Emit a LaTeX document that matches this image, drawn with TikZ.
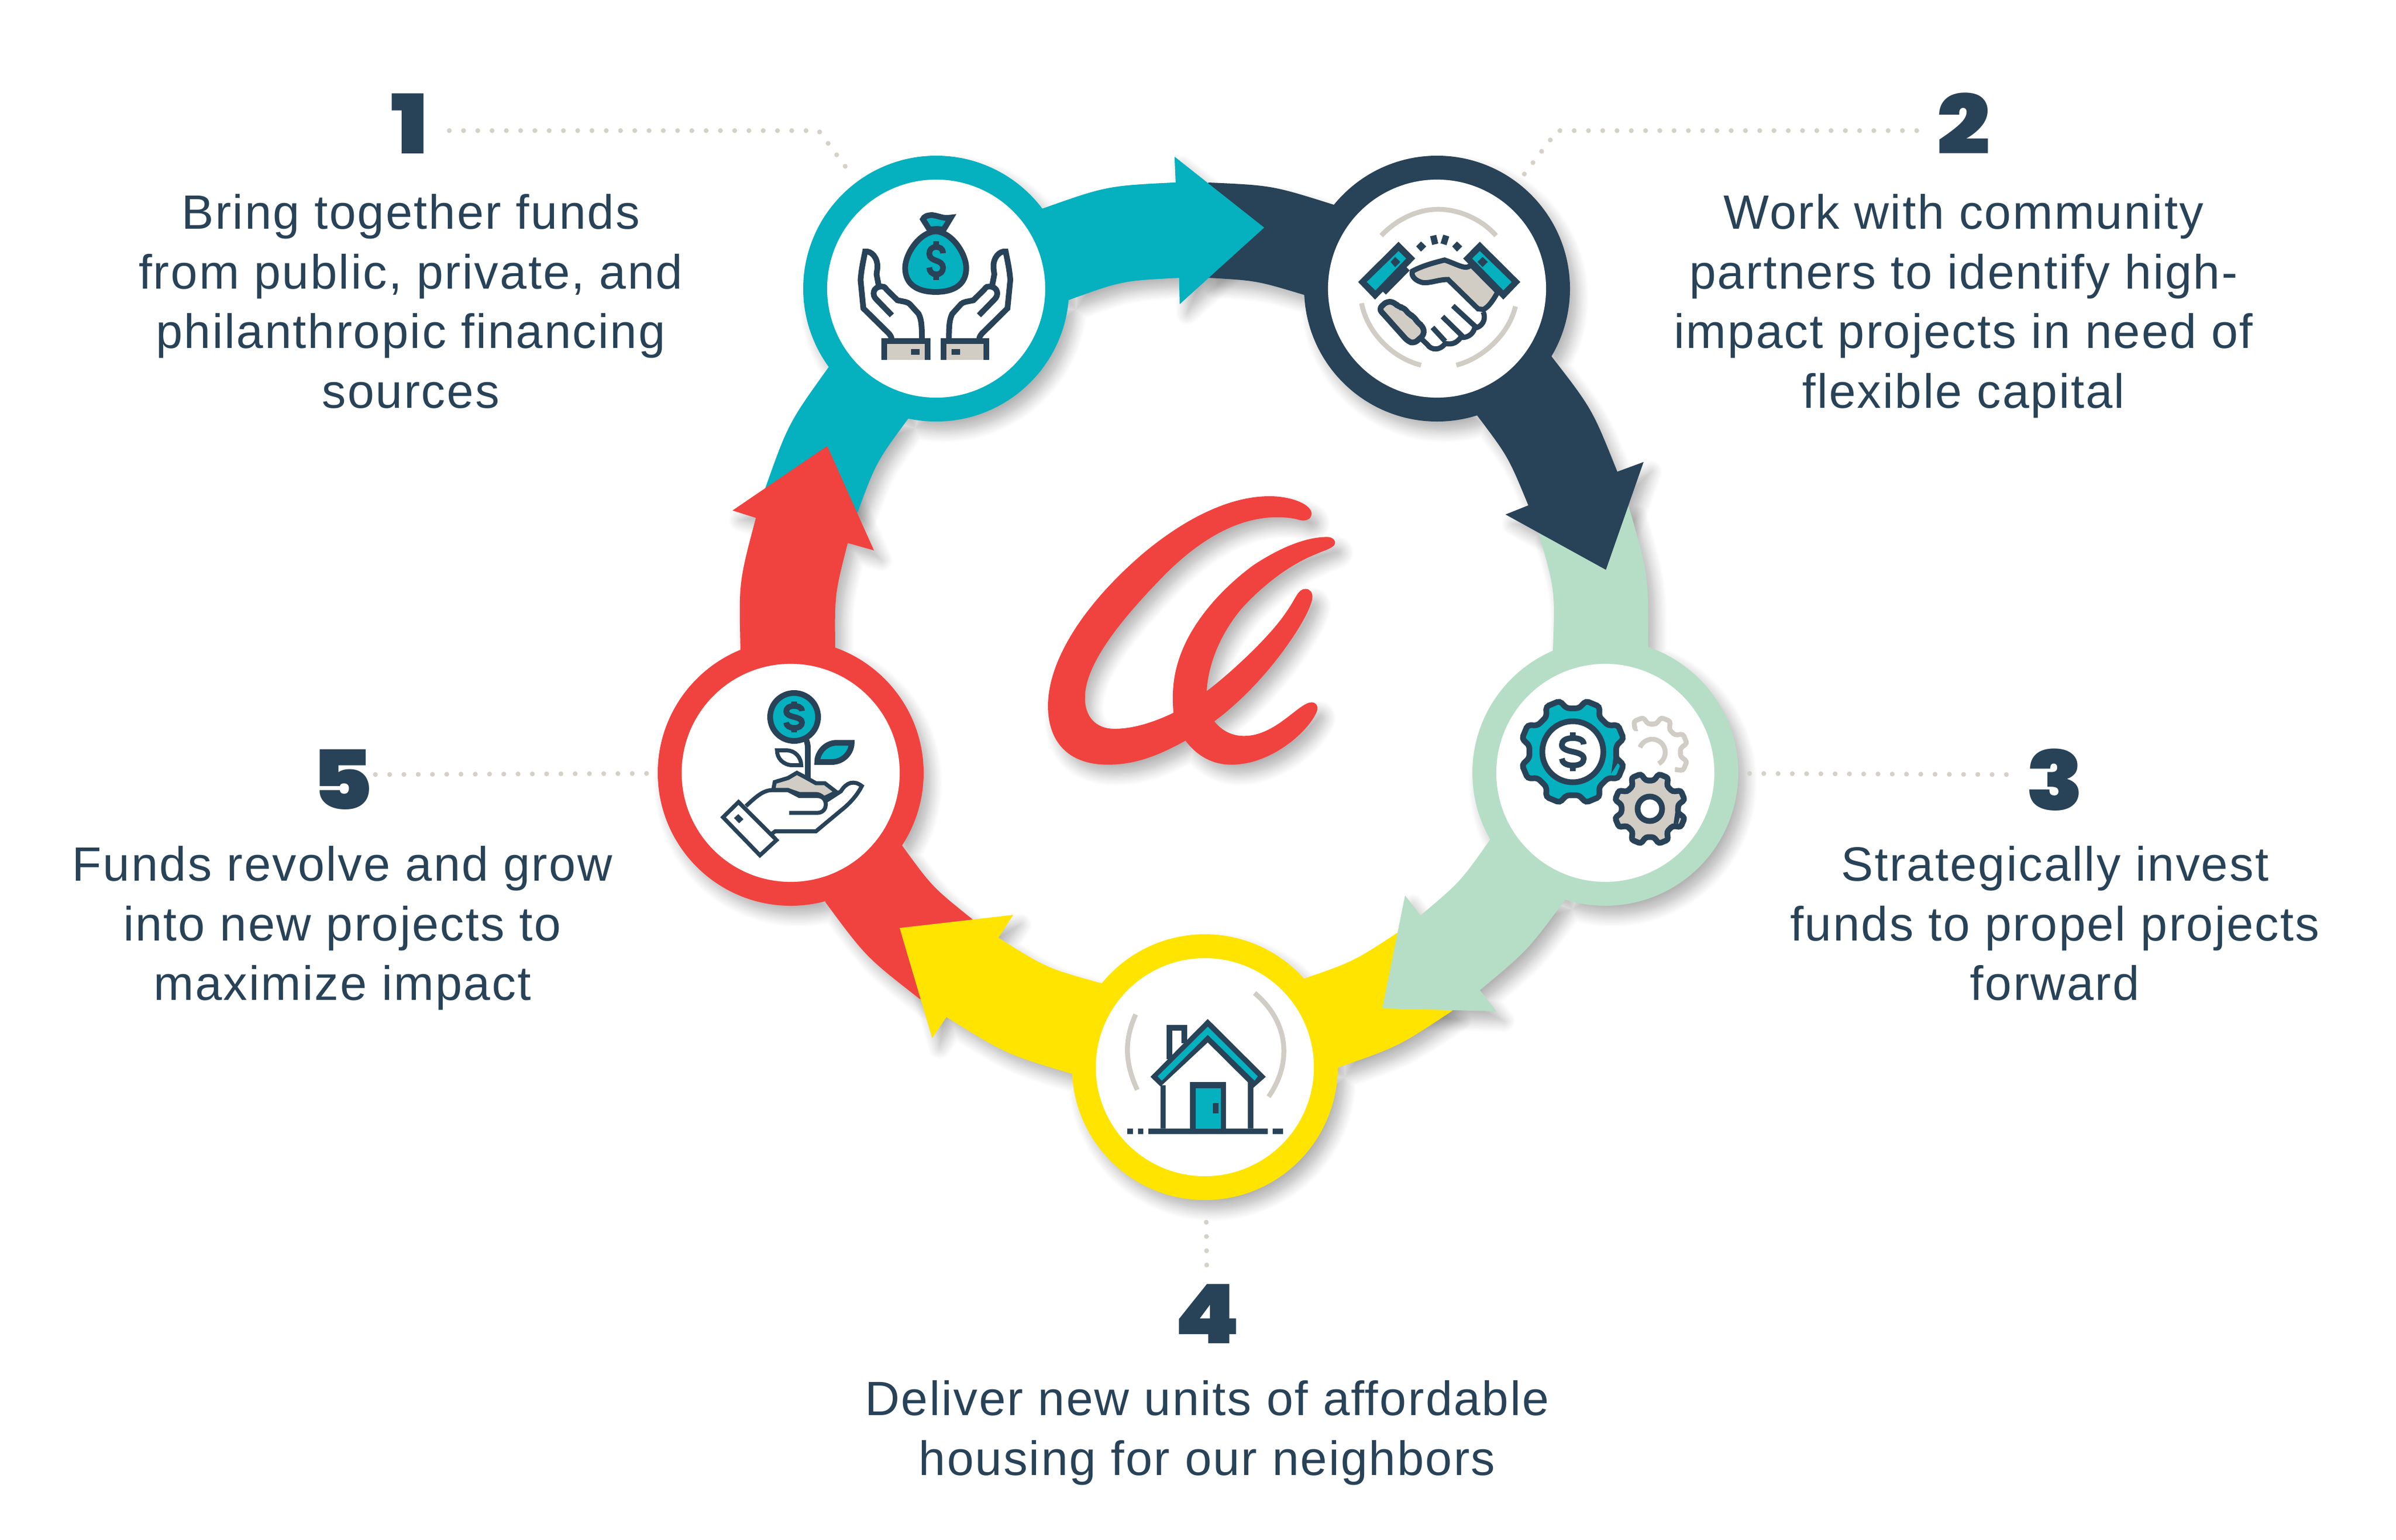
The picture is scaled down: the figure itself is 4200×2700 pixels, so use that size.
\documentclass[tikz,border=0pt]{standalone}
\usepackage{fontspec}
\setmainfont{Liberation Sans}[LetterSpace=3]
\newfontfamily\numfont{Poppins}[UprightFont=* Black,FakeStretch=1.14]
\usetikzlibrary{shadows.blur}
\definecolor{ringteal}{HTML}{05B0BF}
\definecolor{ringnavy}{HTML}{284257}
\definecolor{ringmint}{HTML}{B6DEC6}
\definecolor{ringyellow}{HTML}{FFE400}
\definecolor{ringred}{HTML}{F0433F}
\definecolor{iconbeige}{HTML}{D1CCC4}
\definecolor{dotgrey}{HTML}{D5D1C7}
\begin{document}
\begin{tikzpicture}[x=0.01cm,y=-0.01cm,
    softshadow/.style={blur shadow={shadow xshift=0.13cm,shadow yshift=-0.17cm,shadow blur radius=0.2cm,shadow blur steps=10,shadow opacity=30}},
    stepdisc/.style={circle, fill=white, inner sep=0pt, minimum size=3.82cm},
    numstyle/.style={inner sep=0pt, text=ringnavy, font=\numfont\fontsize{41}{41}\selectfont},
    textstyle/.style={anchor=north, inner sep=0pt, align=center, text=ringnavy, font=\fontsize{24}{29.7}\selectfont},
    leaderline/.style={draw=dotgrey, line width=0.085cm, line cap=round, dash pattern=on 0pt off 0.25cm},
    iconline/.style={draw=ringnavy, line width=0.1cm},
    beigeline/.style={draw=iconbeige, line width=0.085cm},
    dollarmark/.pic={
        \draw[iconline] (12,-13) .. controls (12,-22) and (5,-24) .. (0,-24) .. controls (-8,-24) and (-12,-19) .. (-12,-12) .. controls (-12,-5) and (-6,-2) .. (0,0) .. controls (6,2) and (12,5) .. (12,12) .. controls (12,19) and (8,24) .. (0,24) .. controls (-7,24) and (-12,19) .. (-12,12);
        \draw[iconline] (0,-34) -- (0,-24) (0,24) -- (0,34);
    },
    arrowonepath/.style={insert path={
        (1341,857) .. controls (1382,742) .. (1453,643) -- (1641,506) -- (1592,734) .. controls (1536,810) .. (1503,899) -- cycle
        (1641,506) circle (233)
        (1641,506) -- (1827,366) .. controls (1940,326) .. (2061,320) -- (2059,275) -- (2216,399) -- (2068,533) -- (2067,487) .. controls (1967,492) .. (1873,526) -- cycle}},
    headonepath/.style={insert path={
        (1641,506) -- (1827,366) .. controls (1940,326) .. (2061,320) -- (2059,275) -- (2216,399) -- (2068,533) -- (2067,487) .. controls (1967,492) .. (1873,526) -- cycle}},
    arrowtwopath/.style={insert path={
        (2118,320) .. controls (2230,325) .. (2338,359) -- (2519,506) -- (2286,517) .. controls (2203,492) .. (2118,487) -- cycle
        (2519,506) circle (233)
        (2519,506) -- (2719,624) .. controls (2791,717) .. (2835,827) -- (2881,810) -- (2815,999) -- (2639,902) -- (2679,886) .. controls (2644,801) .. (2589,728) -- cycle}},
    arrowthreepath/.style={insert path={
        (2855,888) .. controls (2890,1009) .. (2889,1136) -- (2814,1355) -- (2722,1141) .. controls (2726,1035) .. (2697,934) -- cycle
        (2814,1355) circle (233)
        (2814,1355) -- (2743,1578) .. controls (2678,1666) .. (2594,1736) -- (2623,1773) -- (2423,1768) -- (2463,1570) -- (2490,1605) .. controls (2560,1546) .. (2612,1472) -- cycle}},
    arrowfourpath/.style={insert path={
        (2546,1772) .. controls (2451,1835) .. (2344,1872) -- (2112,1871) -- (2285,1716) .. controls (2372,1686) .. (2450,1635) -- cycle
        (2112,1871) circle (233)
        (2112,1871) -- (1880,1883) .. controls (1763,1848) .. (1659,1783) -- (1634,1820) -- (1577,1627) -- (1776,1604) -- (1750,1644) .. controls (1834,1697) .. (1931,1724) -- cycle}},
    arrowfivepath/.style={insert path={
        (1613,1752) .. controls (1518,1678) .. (1447,1582) -- (1386,1355) -- (1581,1482) .. controls (1634,1555) .. (1705,1612) -- cycle
        (1386,1355) circle (233)
        (1386,1355) -- (1298,1139) .. controls (1295,1021) .. (1325,908) -- (1284,895) -- (1450,782) -- (1532,965) -- (1486,952) .. controls (1463,1042) .. (1464,1136) -- cycle}},
    logopath/.style={insert path={
        (735,1340) .. controls (620,1420) and (530,1458) .. (430,1458) .. controls (270,1458) and (195,1340) .. (195,1170)
        .. controls (195,950) and (330,680) .. (560,430) .. controls (720,260) and (900,140) .. (1065,140)
        .. controls (1150,140) and (1232,180) .. (1230,228) .. controls (1228,255) and (1205,265) .. (1180,256)
        .. controls (1160,248) and (1130,243) .. (1095,243) .. controls (950,243) and (800,340) .. (650,530)
        .. controls (470,760) and (340,970) .. (340,1130) .. controls (340,1225) and (385,1282) .. (455,1282)
        .. controls (530,1282) and (610,1250) .. (688,1203) .. controls (682,1130) and (685,1050) .. (700,980)
        .. controls (740,780) and (870,600) .. (1000,480) .. controls (1120,380) and (1220,340) .. (1290,340)
        .. controls (1315,340) and (1325,360) .. (1322,372) .. controls (1318,395) and (1280,405) .. (1240,428)
        .. controls (1130,485) and (1030,590) .. (960,685) .. controls (880,800) and (825,950) .. (818,1097)
        .. controls (900,1020) and (1060,840) .. (1130,710) .. controls (1170,640) and (1175,595) .. (1207,595)
        .. controls (1225,595) and (1235,615) .. (1233,640) .. controls (1228,690) and (1180,800) .. (1100,930)
        .. controls (1020,1060) and (930,1170) .. (848,1245) .. controls (880,1295) and (920,1317) .. (965,1317)
        .. controls (1090,1317) and (1180,1152) .. (1230,1152) .. controls (1248,1152) and (1255,1170) .. (1253,1188)
        .. controls (1230,1280) and (1080,1458) .. (915,1458) .. controls (840,1458) and (780,1415) .. (735,1340) -- cycle}}
]
    \useasboundingbox (0,0) rectangle (4200,2700);

    % shadows first, then the ring, each head over the next tail
    \path[softshadow, arrowonepath];
    \path[softshadow, arrowtwopath];
    \path[softshadow, arrowthreepath];
    \path[softshadow, arrowfourpath];
    \path[softshadow, arrowfivepath];
    \fill[ringteal, arrowonepath];
    \fill[ringred, arrowfivepath];
    \fill[ringyellow, arrowfourpath];
    \fill[ringmint, arrowthreepath];
    \fill[ringnavy, arrowtwopath];
    \fill[ringteal, headonepath];

    \node[stepdisc] (stepone) at (1641,506) {};
    \node[stepdisc] (steptwo) at (2519,506) {};
    \node[stepdisc] (stepthree) at (2814,1355) {};
    \node[stepdisc] (stepfour) at (2112,1871) {};
    \node[stepdisc] (stepfive) at (1386,1355) {};

    \begin{scope}[shift={(1750,820)},xscale=0.4464,yscale=0.3571]
        \path[softshadow, logopath];
        \fill[ringred, logopath];
    \end{scope}

    \node[numstyle] (numone) at (718,217) {1};
    \node[numstyle] (numtwo) at (3442,217) {2};
    \node[numstyle] (numthree) at (3602,1367) {3};
    \node[numstyle] (numfour) at (2116,2304) {4};
    \node[numstyle] (numfive) at (600,1367) {5};

    \node[textstyle] (textone) at (720,340) {Bring together funds\\from public, private, and\\philanthropic financing\\sources};
    \node[textstyle] (texttwo) at (3442,340) {Work with community\\partners to identify high-\\impact projects in need of\\flexible capital};
    \node[textstyle] (textthree) at (3602,1483) {Strategically invest\\funds to propel projects\\forward};
    \node[textstyle] (textfour) at (2116,2420) {Deliver new units of affordable\\housing for our neighbors};
    \node[textstyle] (textfive) at (600,1483) {Funds revolve and grow\\into new projects to\\maximize impact};

    \coordinate (bendone) at (1435,229);
    \coordinate (bendtwo) at (2730,229);
    \coordinate (endthree) at (3517,1358);
    \coordinate (endfive) at (658,1358);
    \draw[leaderline, shorten <=0.36cm, shorten >=0.57cm] (numone.east |- bendone) -- (bendone) -- (stepone);
    \draw[leaderline, shorten <=0.35cm, shorten >=0.57cm] (numtwo.west |- bendtwo) -- (bendtwo) -- (steptwo);
    \draw[leaderline, shorten >=0.6cm] (endthree) -- (stepthree);
    \draw[leaderline, shorten <=0.8cm, shorten >=0.25cm] (stepfour) -- (numfour);
    \draw[leaderline, shorten >=0.5cm] (endfive) -- (stepfive);

    % money bag in two hands
    \begin{scope}[shift={(1300,200)},xscale=0.4464,yscale=0.3827]
        \draw[iconline, fill=ringteal] (738,530) -- (712,482) .. controls (715,470) and (730,462) .. (750,463) .. controls (780,468) and (790,480) .. (822,474) -- (793,530) .. controls (775,525) and (755,525) .. (738,530) -- cycle;
        \draw[iconline, fill=ringteal] (762,537) .. controls (700,540) and (642,640) .. (642,705) .. controls (642,780) and (690,815) .. (762,815) .. controls (835,815) and (882,780) .. (882,705) .. controls (882,640) and (825,540) .. (762,537) -- cycle;
        \foreach \side in {0,1} {
            \begin{scope}[shift={(1522*\side,0)},xscale=1-2*\side]
                \fill[iconbeige] (560,1040) rectangle (730,1125);
                \draw[iconline] (560,1125) -- (560,1040) -- (730,1040) -- (730,1125);
                \fill[ringnavy] (665,1077) rectangle (698,1103);
                \draw[iconline] (590,1035) .. controls (588,1020) and (585,1015) .. (578,1005) -- (478,890) -- (467,760) .. controls (470,710) and (480,660) .. (485,630) .. controls (510,625) and (535,660) .. (533,700) .. controls (533,715) and (530,725) .. (530,735) -- (538,785);
                \draw[iconline] (590,922) -- (530,850) .. controls (510,830) and (515,790) .. (550,790) .. controls (565,790) and (565,800) .. (570,805) -- (612,853) .. controls (640,860) and (650,860) .. (660,870) -- (695,915) .. controls (705,940) and (708,960) .. (708,1035);
            \end{scope}
        }
    \end{scope}
    \pic at (1641,457) {dollarmark};

    % handshake
    \begin{scope}[shift={(2000,200)},xscale=0.6061,yscale=0.5421]
        \draw[beigeline] (695,393) .. controls (740,340) and (800,308) .. (860,308) .. controls (920,308) and (985,340) .. (1027,393);
        \draw[beigeline] (638,612) .. controls (655,710) and (730,790) .. (810,812);
        \draw[beigeline] (1083,622) .. controls (1065,710) and (990,790) .. (912,812);
        \fill[ringnavy] (796,428) -- (810,412) -- (825,428) -- (810,445) -- cycle;
        \fill[ringnavy] (900,428) -- (914,412) -- (929,428) -- (914,445) -- cycle;
        \draw[iconline, line width=0.11cm] (845,393) -- (851,421) (883,393) -- (875,421);
        \fill[ringnavy] (745,413) -- (793,467) -- (677,600) -- (628,543) -- cycle;
        \fill[ringteal] (745,443) -- (767,467) -- (678,570) -- (653,543) -- cycle;
        \fill[ringnavy] (735,462) -- (750,478) -- (735,495) -- (722,478) -- cycle;
        \fill[ringnavy] (980,413) -- (932,467) -- (1048,600) -- (1097,543) -- cycle;
        \fill[ringteal] (980,443) -- (958,467) -- (1048,570) -- (1072,543) -- cycle;
        \fill[ringnavy] (988,462) -- (1003,478) -- (988,495) -- (973,478) -- cycle;
        \draw[iconline, fill=iconbeige, line width=0.09cm] (785,508) .. controls (815,490) and (850,480) .. (878,472) .. controls (900,480) and (920,492) .. (935,495) .. controls (945,497) and (950,492) .. (955,488) -- (1032,575) .. controls (1020,600) and (1005,625) .. (990,632) -- (975,630) -- (888,535) .. controls (860,535) and (835,548) .. (815,545) .. controls (795,540) and (780,525) .. (785,508) -- cycle;
        \draw[iconline, line width=0.09cm] (772,500) -- (703,578) (990,640) .. controls (1000,665) and (985,690) .. (965,692) .. controls (960,715) and (940,725) .. (925,722) .. controls (910,745) and (895,745) .. (880,742) .. controls (865,765) and (840,765) .. (828,745) -- (812,728);
        \draw[iconline, line width=0.09cm] (902,620) -- (968,688) (872,655) -- (933,722) (843,690) -- (880,735);
        \draw[iconline, fill=iconbeige, rounded corners=0.07cm] (688,630) -- (712,605) -- (735,610) -- (745,625) -- (760,625) -- (775,648) -- (790,655) -- (800,675) -- (815,685) -- (820,712) -- (790,742) -- (772,735) -- cycle;
    \end{scope}

    % gears
    \begin{scope}[shift={(2757,1318)}]
        \draw[iconline, fill=ringteal, rounded corners=0.05cm] (9:77) \foreach \a in {22.5,67.5,...,337.5} { -- (\a-14.5:77) -- (\a-8:92) -- (\a+8:92) -- (\a+14.5:77)} -- cycle;
        \draw[iconline, fill=white] (0,0) circle (53.5);
    \end{scope}
    \pic[xscale=1.6] at (2757,1318) {dollarmark};
    \begin{scope}[shift={(2892,1418)}]
        \draw[iconline, fill=iconbeige, rounded corners=0.04cm] (9:50) \foreach \a in {22.5,67.5,...,337.5} { -- (\a-14.5:50) -- (\a-8:63) -- (\a+8:63) -- (\a+14.5:50)} -- cycle;
        \draw[iconline, fill=white] (0,0) circle (21.5);
    \end{scope}
    \begin{scope}[shift={(2896,1319)}]
        \draw[beigeline, rounded corners=0.04cm] (-122:49) \foreach \a in {-112.5,-67.5,-22.5,22.5} { -- (\a-14.5:50) -- (\a-8:63) -- (\a+8:63) -- (\a+14.5:50)};
        \draw[beigeline] (-158:23) arc (-158:60:23);
    \end{scope}

    % house
    \begin{scope}[shift={(1550,1550)},xscale=0.7018,yscale=0.4464]
        \draw[beigeline] (628,512) .. controls (600,610) and (600,700) .. (632,808);
        \draw[beigeline] (925,428) .. controls (1010,540) and (1020,700) .. (960,835);
        \draw[iconline] (712,688) -- (712,565) -- (750,565) -- (750,625);
        \fill[ringnavy] (808,530) -- (665,757) -- (690,795) -- (808,622) -- (922,800) -- (953,757) -- cycle;
        \fill[ringteal] (808,560) -- (683,755) -- (693,772) -- (808,592) -- (925,772) -- (933,755) -- cycle;
        \fill[ringnavy] (690,790) rectangle (703,960) (908,775) rectangle (922,960);
        \fill[ringnavy] (660,960) rectangle (958,982) (607,960) rectangle (621,982) (634,960) rectangle (647,982) (970,960) rectangle (996,982);
        \fill[ringnavy] (764,777) rectangle (853,965);
        \fill[ringteal] (778,802) rectangle (840,960);
        \fill[ringnavy] (821,860) rectangle (835,900);
    \end{scope}

    % seedling in a hand
    \draw[iconline, fill=ringteal] (1392,1257) circle (42);
    \pic[xscale=1.15,yscale=0.8] at (1392,1257) {dollarmark};
    \begin{scope}[shift={(1100,750)},xscale=0.4464,yscale=0.7018]
        \draw[iconline] (702,780) .. controls (708,790) and (708,795) .. (708,810) -- (708,875);
        \draw[iconline, fill=ringteal] (745,835) .. controls (745,810) and (780,787) .. (820,787) -- (880,787) .. controls (880,810) and (850,835) .. (800,835) -- cycle;
        \draw[iconline, line width=0.07cm] (587,806) -- (625,806) .. controls (660,806) and (682,825) .. (682,843) -- (650,843) .. controls (610,843) and (587,825) .. (587,806) -- cycle;
        \draw[iconline, fill=iconbeige, line width=0.07cm] (572,905) -- (578,885) -- (630,875) -- (665,862) -- (695,872) -- (740,888) -- (775,888) -- (820,910) -- (772,925) .. controls (760,918) and (750,915) .. (740,915) -- (675,915) -- (630,905) -- cycle;
        \draw[iconline, line width=0.07cm] (465,945) .. controls (500,925) and (530,905) .. (570,905) -- (630,905) -- (675,920) -- (745,920) .. controls (790,920) and (790,962) .. (745,962) -- (635,962);
        \draw[iconline, line width=0.07cm] (780,932) -- (838,908) .. controls (860,885) and (890,880) .. (920,895) .. controls (900,920) and (870,940) .. (840,955) -- (740,1008) -- (580,1008) -- (565,1015);
        \draw[iconline, line width=0.07cm, fill=white] (436,935) -- (585,1030) -- (520,1068) -- (375,973) -- cycle;
        \fill[ringnavy] (435,965) -- (455,978) -- (438,988) -- (418,975) -- cycle;
    \end{scope}
\end{tikzpicture}
\end{document}
